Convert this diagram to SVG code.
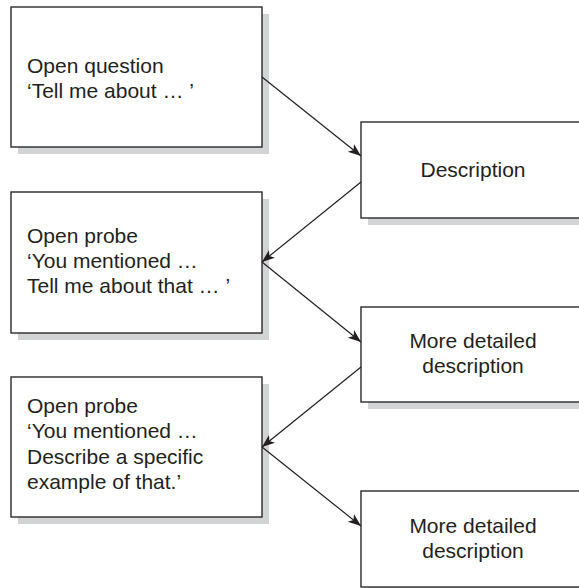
<svg xmlns="http://www.w3.org/2000/svg" width="579" height="588" viewBox="0 0 579 588">
<defs>
<style>
.shadow{fill:#d2d3d5;stroke:none}
.box{fill:#fff;stroke:#2a2a2a;stroke-width:1.4}
.t{font-family:"Liberation Sans",Arial,sans-serif;font-size:21px;fill:#231f20}
.c{text-anchor:middle}
.conn{stroke:#231f20;stroke-width:1.2;fill:none;marker-end:url(#arr)}
</style>
<marker id="arr" markerUnits="userSpaceOnUse" markerWidth="14" markerHeight="12" refX="13" refY="5" orient="auto">
<path d="M0,0 L13,5 L0,10 L3.5,5 Z" fill="#231f20"/>
</marker>
</defs>
<rect width="579" height="588" fill="#fff"/>
<g id="n1">
<rect class="shadow" x="18" y="14" width="251" height="140"/>
<rect class="box" x="11" y="7" width="251" height="140"/>
<text class="t" x="27" y="73">Open question</text>
<text class="t" x="27" y="98">‘Tell me about … ’</text>
</g>
<g id="n2">
<rect class="shadow" x="368" y="129" width="224" height="96"/>
<rect class="box" x="361" y="122" width="224" height="96"/>
<text class="t c" x="473" y="177">Description</text>
</g>
<g id="n3">
<rect class="shadow" x="18" y="199" width="251" height="141"/>
<rect class="box" x="11" y="192" width="251" height="141"/>
<text class="t" x="27" y="243">Open probe</text>
<text class="t" x="27" y="268">‘You mentioned …</text>
<text class="t" x="27" y="293">Tell me about that … ’</text>
</g>
<g id="n4">
<rect class="shadow" x="368" y="314" width="224" height="95"/>
<rect class="box" x="361" y="307" width="224" height="95"/>
<text class="t c" x="473" y="348">More detailed</text>
<text class="t c" x="473" y="373">description</text>
</g>
<g id="n5">
<rect class="shadow" x="18" y="384" width="251" height="140"/>
<rect class="box" x="11" y="377" width="251" height="140"/>
<text class="t" x="27" y="413">Open probe</text>
<text class="t" x="27" y="438">‘You mentioned …</text>
<text class="t" x="27" y="464">Describe a specific</text>
<text class="t" x="27" y="489">example of that.’</text>
</g>
<g id="n6">
<rect class="shadow" x="368" y="498" width="224" height="96"/>
<rect class="box" x="361" y="491" width="224" height="96"/>
<text class="t c" x="473" y="533">More detailed</text>
<text class="t c" x="473" y="558">description</text>
</g>
<g id="connectors">
<line class="conn" x1="262" y1="77" x2="361" y2="156"/>
<line class="conn" x1="361" y1="182" x2="262" y2="262"/>
<line class="conn" x1="262" y1="262" x2="361" y2="342"/>
<line class="conn" x1="361" y1="367" x2="262" y2="447"/>
<line class="conn" x1="262" y1="447" x2="361" y2="526"/>
</g>
</svg>
